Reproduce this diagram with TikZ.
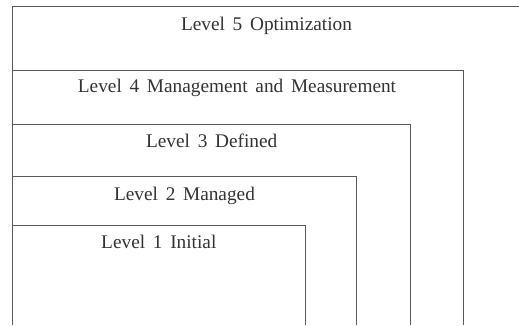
\documentclass[tikz,border=0pt]{standalone}
\usepackage{fontspec}
\setmainfont{Liberation Serif}[WordSpace=1.6]
\usepackage{tikz}

\begin{document}
\begin{tikzpicture}[x=1pt,y=-1pt,
  frame/.style={draw=black!65,line width=0.9pt},
  lvl/.style={anchor=base,inner sep=0pt,text=black!80,font=\fontsize{19.3}{22}\selectfont}]
\useasboundingbox (0,0) rectangle (519,325);
\draw [frame] (12,325) -- (12,6.7) -- (519,6.7);
\draw [frame] (12,70) -- (463.3,70) -- (463.3,325);
\draw [frame] (12,124) -- (410,124) -- (410,325);
\draw [frame] (12,176.7) -- (356.7,176.7) -- (356.7,325);
\draw [frame] (12,225) -- (305.5,225) -- (305.5,325);
\node [lvl] (five) at (266.5,30.5) {Level 5 Optimization};
\node [lvl] (four) at (237,92) {Level 4 Management and Measurement};
\node [lvl] (three) at (211.7,147.3) {Level 3 Defined};
\node [lvl] (two) at (184.5,200.7) {Level 2 Managed};
\node [lvl] (one) at (158.8,248.7) {Level 1 Initial};
\end{tikzpicture}
\end{document}
